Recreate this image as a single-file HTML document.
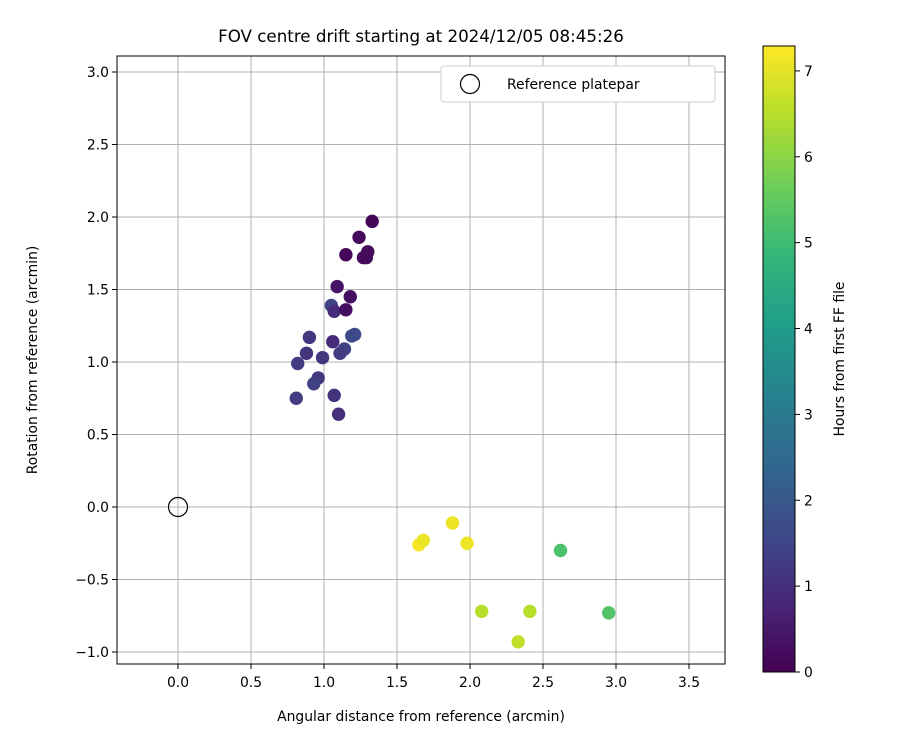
<!DOCTYPE html>
<html><head><meta charset="utf-8"><style>
body{margin:0;background:#fff;}
svg{font-family:"DejaVu Sans","Liberation Sans",sans-serif;}
</style></head><body>
<svg id="chart" width="900" height="750" viewBox="0 0 900 750" xmlns="http://www.w3.org/2000/svg">
<defs><linearGradient id="vir" x1="0" y1="1" x2="0" y2="0"></linearGradient></defs>
<g id="grid"></g>
<g id="points"></g>
<rect x="117" y="56" width="608" height="608" fill="none" stroke="#000" stroke-width="1"/>
<g id="xticks"></g>
<g id="yticks"></g>
<text x="421" y="42" text-anchor="middle" font-size="16.7">FOV centre drift starting at 2024/12/05 08:45:26</text>
<text x="421" y="721" text-anchor="middle" font-size="13.9">Angular distance from reference (arcmin)</text>
<text transform="translate(37,360) rotate(-90)" text-anchor="middle" font-size="13.9">Rotation from reference (arcmin)</text>
<g>
<rect x="441" y="66" width="274" height="36" rx="3" fill="#fff" stroke="#ccc"/>
<circle cx="470" cy="84" r="9.5" fill="none" stroke="#000" stroke-width="1.2"/>
<text x="507" y="89" font-size="13.9">Reference platepar</text>
</g>
<rect x="763" y="46" width="32" height="626" fill="url(#vir)" stroke="#000" stroke-width="1"/>
<g id="cticks"></g>
<text transform="translate(844,359) rotate(-90)" text-anchor="middle" font-size="13.9">Hours from first FF file</text>
</svg>
<script>
const xValues=[1.33,1.24,1.15,1.27,1.30,1.29,1.09,1.18,1.05,1.07,1.15,0.90,1.21,1.19,1.06,1.14,1.11,0.88,0.99,0.82,0.96,0.93,1.07,0.81,1.10,1.65,1.68,1.88,1.98,2.08,2.41,2.33,2.62,2.95];
const yValues=[1.97,1.86,1.74,1.72,1.76,1.72,1.52,1.45,1.39,1.35,1.36,1.17,1.19,1.18,1.14,1.09,1.06,1.06,1.03,0.99,0.89,0.85,0.77,0.75,0.64,-0.26,-0.23,-0.11,-0.25,-0.72,-0.72,-0.93,-0.30,-0.73];
const hours=[0.1,0.15,0.1,0.2,0.2,0.2,0.4,0.3,1.5,0.9,0.3,1.2,1.6,1.6,0.9,1.4,1.3,1.1,1.2,1.3,1.2,1.4,1.1,1.3,1.0,7.2,7.1,7.1,7.1,6.5,6.5,6.6,5.2,5.3];
const xTicks=[0,0.5,1,1.5,2,2.5,3,3.5];
const yTicks=[-1,-0.5,0,0.5,1,1.5,2,2.5,3];
const cTicks=[0,1,2,3,4,5,6,7];
const xs=v=>178+v*146, ys=v=>507-v*145;
const hMax=7.29, cs=v=>672-v*(626/hMax);
const vir=[[68,1,84],[72,40,120],[62,74,137],[49,104,142],[38,130,142],[31,158,137],[53,183,121],[110,206,88],[181,222,43],[253,231,37]];
function col(t){t=Math.max(0,Math.min(1,t))*(vir.length-1);const i=Math.min(Math.floor(t),vir.length-2),f=t-i;const c=vir[i].map((a,k)=>Math.round(a+(vir[i+1][k]-a)*f));return `rgb(${c})`;}
const NS="http://www.w3.org/2000/svg";
function mk(p,tag,at){const e=document.createElementNS(NS,tag);for(const k in at)e.setAttribute(k,at[k]);p.appendChild(e);return e;}
const g=document.getElementById('grid'),xt=document.getElementById('xticks'),yt=document.getElementById('yticks'),pt=document.getElementById('points'),ct=document.getElementById('cticks');
xTicks.forEach(v=>{const x=xs(v);
const l=mk(g,'line',{x1:x,x2:x,y1:56,y2:664,stroke:'#b0b0b0','stroke-width':1});


mk(xt,'line',{x1:x,x2:x,y1:664,y2:669,stroke:'#000'});
const t=mk(xt,'text',{x:x,y:687,'text-anchor':'middle','font-size':13.9});t.textContent=v.toFixed(1);

});
yTicks.forEach(v=>{const y=ys(v);
const l=mk(g,'line',{x1:117,x2:725,y1:y,y2:y,stroke:'#b0b0b0','stroke-width':1});


mk(yt,'line',{x1:112,x2:117,y1:y,y2:y,stroke:'#000'});
const t=mk(yt,'text',{x:109,y:y+5,'text-anchor':'end','font-size':13.9});t.textContent=(v<0?'\u2212':'')+Math.abs(v).toFixed(1);

});
const ref=mk(pt,'circle',{cx:xs(0),cy:ys(0),r:9.5,fill:'none',stroke:'#000','stroke-width':1.2});


xValues.forEach((v,i)=>{const c=mk(pt,'circle',{cx:xs(v),cy:ys(yValues[i]),r:6.7,fill:col(hours[i]/hMax)});

});
const gr=document.getElementById('vir');
vir.forEach((c,i)=>mk(gr,'stop',{offset:i/(vir.length-1),'stop-color':`rgb(${c})`}));
cTicks.forEach(v=>{const y=cs(v);
mk(ct,'line',{x1:795,x2:800,y1:y,y2:y,stroke:'#000'});
const t=mk(ct,'text',{x:804,y:y+5,'font-size':13.9});t.textContent=v;

});
</script>
</body></html>
